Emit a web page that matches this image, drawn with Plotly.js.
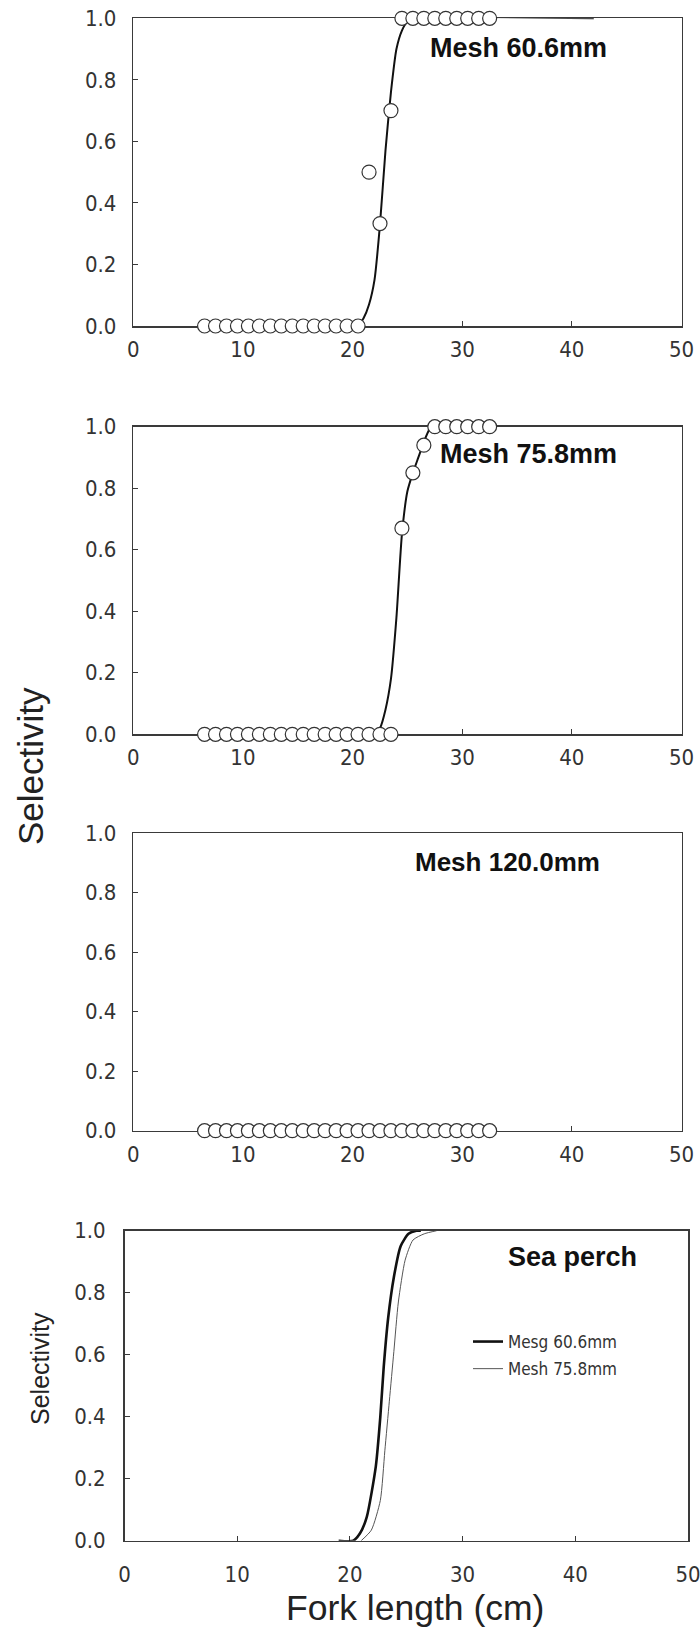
<!DOCTYPE html>
<html>
<head>
<meta charset="utf-8">
<script src="https://cdn.plot.ly/plotly-3.0.1.min.js"></script>
<style>html,body{margin:0;padding:0;background:#fff;}#chart{width:700px;height:1631px;}</style>
</head>
<body>
<div id="chart"></div>
<script>
// ---------- data ----------
const lengthClasses = [6.5,7.5,8.5,9.5,10.5,11.5,12.5,13.5,14.5,15.5,16.5,17.5,18.5,19.5,20.5,21.5,22.5,23.5,24.5,25.5,26.5,27.5,28.5,29.5,30.5,31.5,32.5];
const obs606 = [0,0,0,0,0,0,0,0,0,0,0,0,0,0,0,0.5,0.333,0.70,1,1,1,1,1,1,1,1,1];
const obs758 = [0,0,0,0,0,0,0,0,0,0,0,0,0,0,0,0,0,0,0.67,0.85,0.94,1,1,1,1,1,1];
const obs1200 = [0,0,0,0,0,0,0,0,0,0,0,0,0,0,0,0,0,0,0,0,0,0,0,0,0,0,0];

const fit606X = [20.5,21.0,21.5,22.0,22.5,23.0,23.5,24.0,24.5,25.0,25.5,42.0];
const fit606Y = [0,0.025,0.07,0.15,0.33,0.57,0.76,0.90,0.96,0.99,1.0,1.0];
const fit758X = [22.0,22.5,23.0,23.5,24.0,24.5,25.0,25.5,26.0,26.5,27.0,27.5];
const fit758Y = [0,0.02,0.08,0.18,0.38,0.65,0.79,0.85,0.90,0.95,0.99,1.0];

const sum606X = [19.0,20.3,20.9,21.5,22.3,22.7,23.0,23.4,23.9,24.5,25.2,25.9,26.3];
const sum606Y = [0,0,0.024,0.077,0.24,0.40,0.56,0.72,0.85,0.95,0.99,1.0,1.0];
const sum758X = [21.0,21.9,22.7,23.1,23.5,23.9,24.3,24.9,25.6,26.6,27.7];
const sum758Y = [0,0.034,0.13,0.29,0.45,0.61,0.77,0.905,0.97,0.99,1.0];

const xTickVals = [0,10,20,30,40,50];
const yTickVals = [0,0.2,0.4,0.6,0.8,1.0];
const panelTitles = ['Mesh 60.6mm','Mesh 75.8mm','Mesh 120.0mm','Sea perch'];
const legendNames = ['Mesg 60.6mm','Mesh 75.8mm'];

// ---------- layout helpers ----------
const W = 700, H = 1631;
const fx = p => p / W;
const fy = p => 1 - p / H;
const FONT = 'Liberation Sans, Arial, sans-serif';
const NARROW = '"Liberation Sans Narrow", "Arial Narrow", "DejaVu Sans Condensed", sans-serif';

function ax(domain, anchor, isX, standoff) {
  return {
    domain: domain, anchor: anchor,
    range: isX ? [0,50] : [0,1],
    tickvals: isX ? xTickVals : yTickVals,
    tickformat: isX ? 'd' : '.1f',
    showline: true, linecolor: '#3a3a3a', linewidth: 1.5, mirror: true,
    ticks: 'inside', ticklen: 5, tickwidth: 1, tickcolor: '#3a3a3a',
    showgrid: false, zeroline: false, fixedrange: true,
    layer: 'below traces',
    tickfont: {family: NARROW, size: 22, color: '#333'},
    ticklabelstandoff: standoff,
    ticklabeloverflow: 'allow'
  };
}

const marker = {symbol: 'circle', size: 14, color: '#ffffff', line: {color: '#333', width: 1.2}};

const traces = [
  {x: fit606X, y: fit606Y, xaxis: 'x', yaxis: 'y', mode: 'lines', line: {color: '#111', width: 2, shape: 'spline', smoothing: 0.6}, showlegend: false, cliponaxis: false},
  {x: lengthClasses, y: obs606, xaxis: 'x', yaxis: 'y', mode: 'markers', marker: marker, showlegend: false, cliponaxis: false},
  {x: fit758X, y: fit758Y, xaxis: 'x2', yaxis: 'y2', mode: 'lines', line: {color: '#111', width: 2, shape: 'spline', smoothing: 0.6}, showlegend: false, cliponaxis: false},
  {x: lengthClasses, y: obs758, xaxis: 'x2', yaxis: 'y2', mode: 'markers', marker: marker, showlegend: false, cliponaxis: false},
  {x: lengthClasses, y: obs1200, xaxis: 'x3', yaxis: 'y3', mode: 'markers', marker: marker, showlegend: false, cliponaxis: false},
  {x: sum606X, y: sum606Y, xaxis: 'x4', yaxis: 'y4', mode: 'lines', name: legendNames[0], legendgroup: 'a', line: {color: '#111', width: 2.6, shape: 'spline', smoothing: 0.6}, cliponaxis: false},
  {x: sum758X, y: sum758Y, xaxis: 'x4', yaxis: 'y4', mode: 'lines', name: legendNames[1], legendgroup: 'b', line: {color: '#555', width: 1, shape: 'spline', smoothing: 0.6}, cliponaxis: false}
];

const d123 = [fx(133.3), fx(681.5)];
const layout = {
  width: W, height: H,
  margin: {l: 0, r: 0, t: 0, b: 0},
  paper_bgcolor: '#fff', plot_bgcolor: '#fff',
  font: {family: FONT, color: '#222'},
  xaxis: ax(d123, 'y', true, 3),
  yaxis: ax([fy(326), fy(18.3)], 'x', false, 11),
  xaxis2: ax(d123, 'y2', true, 3),
  yaxis2: ax([fy(734.3), fy(426.7)], 'x2', false, 11),
  xaxis3: ax(d123, 'y3', true, 3),
  yaxis3: ax([fy(1130.7), fy(833.3)], 'x3', false, 11),
  xaxis4: ax([fx(124.5), fx(688)], 'y4', true, 13),
  yaxis4: ax([fy(1540.7), fy(1230.7)], 'x4', false, 13),
  showlegend: true,
  legend: {
    x: fx(468), y: fy(1324), xanchor: 'left', yanchor: 'top',
    bgcolor: 'rgba(0,0,0,0)', borderwidth: 0,
    font: {family: NARROW, size: 17, color: '#333'},
    traceorder: 'grouped', tracegroupgap: 2, itemwidth: 30
  },
  annotations: [
    {text: '<b>' + panelTitles[0] + '</b>', xref: 'paper', yref: 'paper', x: fx(609), y: fy(48), xanchor: 'right', yanchor: 'middle', showarrow: false, font: {family: FONT, size: 27, color: '#111'}},
    {text: '<b>' + panelTitles[1] + '</b>', xref: 'paper', yref: 'paper', x: fx(619), y: fy(454), xanchor: 'right', yanchor: 'middle', showarrow: false, font: {family: FONT, size: 27, color: '#111'}},
    {text: '<b>' + panelTitles[2] + '</b>', xref: 'paper', yref: 'paper', x: fx(602), y: fy(862), xanchor: 'right', yanchor: 'middle', showarrow: false, font: {family: FONT, size: 26, color: '#111'}},
    {text: '<b>' + panelTitles[3] + '</b>', xref: 'paper', yref: 'paper', x: fx(639), y: fy(1257), xanchor: 'right', yanchor: 'middle', showarrow: false, font: {family: FONT, size: 27, color: '#111'}},
    {text: 'Selectivity', xref: 'paper', yref: 'paper', x: fx(30), y: fy(766), xanchor: 'center', yanchor: 'middle', textangle: -90, showarrow: false, font: {family: FONT, size: 35, color: '#222'}},
    {text: 'Selectivity', xref: 'paper', yref: 'paper', x: fx(40), y: fy(1369), xanchor: 'center', yanchor: 'middle', textangle: -90, showarrow: false, font: {family: FONT, size: 25, color: '#222'}},
    {text: 'Fork length (cm)', xref: 'paper', yref: 'paper', x: fx(415), y: fy(1608), xanchor: 'center', yanchor: 'middle', showarrow: false, font: {family: FONT, size: 35.5, color: '#222'}}
  ]
};

Plotly.newPlot('chart', traces, layout, {staticPlot: true, displayModeBar: false});
</script>
</body>
</html>
